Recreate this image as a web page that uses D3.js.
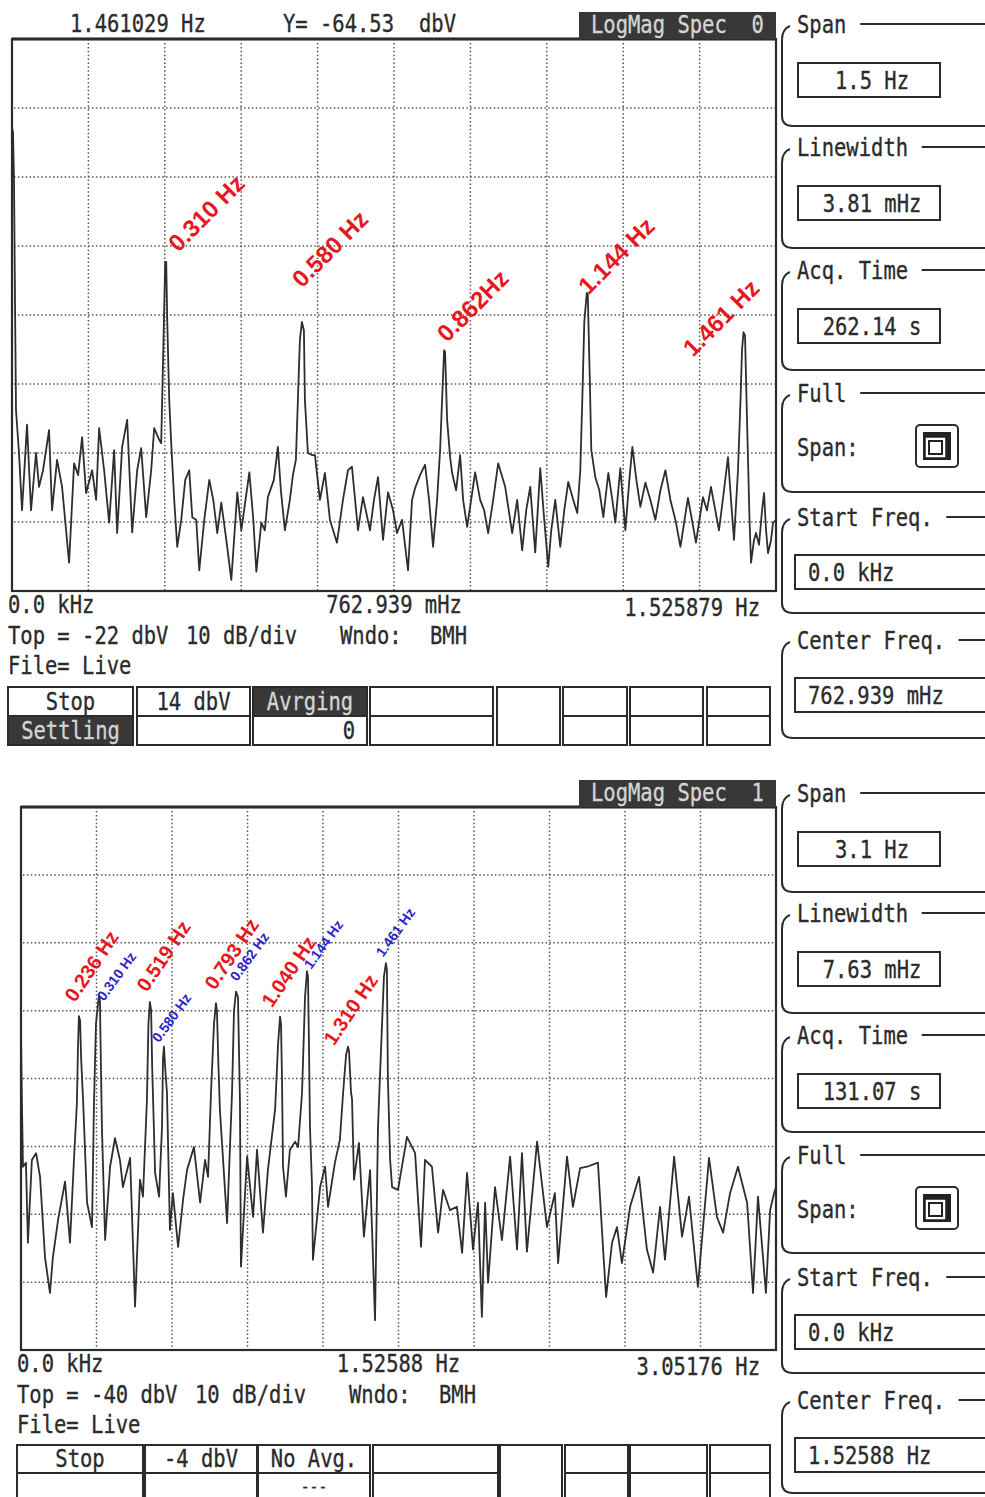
<!DOCTYPE html>
<html>
<head>
<meta charset="utf-8">
<script src="https://cdn.jsdelivr.net/npm/d3@7"></script>
<style>
  body { margin: 0; background: #fff; }
  .mono { font-family: "DejaVu Sans Mono", monospace; font-size: 25px; fill: #2b2b2b; stroke: #2b2b2b; stroke-width: 0.35; white-space: pre; }
  .peak { font-family: "Liberation Sans", Arial, sans-serif; font-weight: bold; }
</style>
</head>
<body>
<svg id="chart" width="985" height="1497"></svg>
<script>
// ---- data ----
// top analyser screen: span 1.525879 Hz, top -22 dBV, 10 dB/div
const topSpan = 1.525879;
const topRef = -22;
const topTrace = [
  [0.000,-34.8],[0.002,-35.5],[0.004,-42.4],[0.006,-60.0],[0.008,-75.8],[0.014,-82.0],[0.020,-90.3],[0.030,-77.9],
  [0.038,-90.3],[0.048,-82.0],[0.054,-86.9],[0.062,-84.5],[0.074,-78.7],[0.080,-90.3],[0.090,-83.0],[0.100,-86.9],
  [0.114,-97.9],[0.124,-83.5],[0.132,-85.2],[0.140,-79.7],[0.148,-87.8],[0.160,-84.5],[0.168,-88.8],[0.174,-78.4],
  [0.184,-84.5],[0.194,-92.1],[0.204,-81.6],[0.210,-93.6],[0.220,-81.1],[0.230,-77.2],[0.240,-93.5],[0.250,-84.5],
  [0.258,-81.3],[0.268,-91.3],[0.278,-84.5],[0.284,-78.4],[0.294,-80.1],[0.298,-80.6],[0.302,-67.6],[0.306,-54.3],
  [0.308,-54.3],[0.310,-62.7],[0.314,-74.3],[0.318,-80.6],[0.324,-88.8],[0.330,-95.6],[0.338,-91.7],[0.346,-85.9],
  [0.354,-84.5],[0.360,-91.3],[0.368,-91.7],[0.374,-99.0],[0.384,-91.7],[0.394,-85.9],[0.402,-88.8],[0.410,-93.6],
  [0.418,-89.2],[0.428,-94.6],[0.438,-100.4],[0.450,-87.7],[0.458,-93.2],[0.474,-84.8],[0.482,-91.7],[0.488,-99.2],
  [0.498,-92.1],[0.505,-93.2],[0.511,-88.4],[0.523,-85.9],[0.531,-81.1],[0.537,-87.4],[0.545,-93.2],[0.555,-88.8],
  [0.561,-85.2],[0.567,-83.0],[0.571,-74.3],[0.575,-65.6],[0.579,-63.0],[0.583,-64.2],[0.585,-74.3],[0.591,-82.0],
  [0.599,-82.3],[0.605,-82.3],[0.615,-88.8],[0.625,-84.9],[0.635,-91.7],[0.649,-95.0],[0.661,-88.8],[0.671,-84.5],
  [0.679,-84.0],[0.691,-93.2],[0.701,-88.4],[0.715,-93.2],[0.723,-88.8],[0.731,-85.5],[0.741,-94.6],[0.751,-87.7],
  [0.761,-90.3],[0.769,-93.6],[0.779,-91.7],[0.791,-99.0],[0.799,-88.8],[0.805,-87.1],[0.815,-85.2],[0.825,-83.7],
  [0.833,-88.8],[0.841,-95.6],[0.849,-88.8],[0.855,-81.6],[0.859,-74.3],[0.863,-67.1],[0.865,-67.4],[0.869,-77.2],
  [0.875,-82.6],[0.879,-84.9],[0.887,-87.4],[0.895,-82.3],[0.901,-88.8],[0.909,-92.7],[0.917,-88.8],[0.925,-84.8],
  [0.935,-88.8],[0.943,-90.3],[0.951,-93.6],[0.961,-88.8],[0.971,-83.5],[0.985,-86.9],[0.999,-93.6],[1.009,-88.8],
  [1.019,-96.1],[1.027,-90.3],[1.035,-86.9],[1.045,-96.4],[1.055,-84.2],[1.063,-91.7],[1.071,-98.5],[1.077,-93.2],
  [1.085,-88.8],[1.095,-95.6],[1.103,-90.3],[1.111,-86.2],[1.121,-88.8],[1.129,-90.7],[1.135,-84.5],[1.139,-74.3],
  [1.143,-63.0],[1.148,-58.8],[1.150,-59.1],[1.154,-71.4],[1.157,-81.6],[1.165,-85.5],[1.173,-87.4],[1.181,-91.3],
  [1.191,-84.9],[1.199,-88.8],[1.205,-92.1],[1.215,-84.2],[1.225,-93.2],[1.233,-85.9],[1.239,-81.1],[1.247,-85.9],
  [1.255,-89.8],[1.265,-86.3],[1.275,-88.8],[1.285,-91.7],[1.295,-87.4],[1.305,-84.5],[1.315,-88.8],[1.325,-91.7],
  [1.335,-95.6],[1.350,-88.5],[1.358,-91.7],[1.366,-95.0],[1.380,-88.4],[1.388,-90.3],[1.396,-86.9],[1.412,-93.2],
  [1.422,-87.4],[1.430,-82.6],[1.436,-88.8],[1.442,-94.6],[1.450,-84.5],[1.455,-74.3],[1.458,-67.1],[1.461,-64.5],
  [1.464,-65.0],[1.468,-77.2],[1.473,-91.7],[1.476,-97.9],[1.482,-94.6],[1.486,-93.6],[1.492,-95.3],[1.498,-90.3],
  [1.502,-87.8],[1.506,-93.2],[1.510,-96.5],[1.516,-94.6],[1.520,-92.1],[1.526,-91.7]
];
// red peak notes on the top screen: text, anchor frequency (Hz), anchor level (dBV)
const topNotes = [
  ["0.310 Hz", 0.332, -53.0],
  ["0.580 Hz", 0.579, -58.2],
  ["0.862Hz", 0.869, -66.1],
  ["1.144 Hz", 1.151, -59.2],
  ["1.461 Hz", 1.360, -68.2]
];
const topAxisText = ["0.0 kHz", "762.939 mHz", "1.525879 Hz"];
const topSide = [["Span", "1.5 Hz"], ["Linewidth", "3.81 mHz"], ["Acq. Time", "262.14 s"],
                 ["Full", "Span:"], ["Start Freq.", "0.0 kHz"], ["Center Freq.", "762.939 mHz"]];
const topRow1 = ["Stop", "14 dbV", "Avrging", "", "", "", "", ""];
const topRow2 = ["Settling", "", "0", "", "", "", "", ""];

// bottom analyser screen: span 3.05176 Hz, top -40 dBV, 10 dB/div
const botSpan = 3.05176;
const botRef = -40;
const botTrace = [
  [0.000,-73.3],[0.004,-84.2],[0.008,-93.0],[0.020,-92.4],[0.028,-104.2],[0.044,-92.0],[0.061,-91.0],[0.077,-94.5],
  [0.097,-106.3],[0.117,-111.6],[0.129,-106.3],[0.150,-100.8],[0.178,-95.2],[0.198,-104.2],[0.214,-92.0],[0.226,-83.6],
  [0.230,-76.0],[0.234,-70.8],[0.239,-71.5],[0.243,-77.0],[0.251,-83.2],[0.267,-98.3],[0.287,-101.9],[0.295,-83.6],
  [0.303,-72.0],[0.315,-67.7],[0.319,-68.5],[0.323,-78.0],[0.327,-87.1],[0.340,-103.8],[0.360,-93.0],[0.380,-88.8],
  [0.400,-92.0],[0.412,-96.0],[0.441,-91.7],[0.461,-113.6],[0.481,-94.9],[0.493,-97.4],[0.509,-83.2],[0.515,-72.0],
  [0.521,-68.7],[0.526,-70.0],[0.530,-78.0],[0.534,-83.2],[0.542,-93.9],[0.558,-97.4],[0.570,-87.1],[0.574,-77.0],
  [0.578,-75.3],[0.582,-78.0],[0.590,-82.1],[0.602,-102.3],[0.614,-96.9],[0.635,-104.8],[0.655,-97.9],[0.671,-93.5],
  [0.699,-90.1],[0.724,-98.3],[0.744,-92.0],[0.756,-94.5],[0.768,-82.1],[0.780,-72.0],[0.788,-68.9],[0.792,-70.0],
  [0.798,-78.0],[0.804,-84.6],[0.833,-101.3],[0.853,-82.1],[0.861,-70.0],[0.869,-67.2],[0.877,-68.0],[0.885,-83.2],
  [0.889,-107.7],[0.914,-91.5],[0.938,-100.4],[0.954,-90.5],[0.978,-102.7],[0.998,-93.5],[1.027,-84.6],[1.039,-75.0],
  [1.047,-70.9],[1.051,-72.0],[1.055,-80.0],[1.059,-93.0],[1.071,-97.4],[1.087,-90.5],[1.108,-89.3],[1.120,-90.1],
  [1.136,-82.1],[1.148,-68.0],[1.156,-64.2],[1.160,-65.0],[1.164,-75.0],[1.168,-87.1],[1.176,-95.4],[1.180,-106.7],
  [1.209,-96.0],[1.229,-93.0],[1.241,-98.9],[1.269,-92.4],[1.289,-89.0],[1.302,-82.1],[1.314,-76.5],[1.322,-75.3],
  [1.326,-76.0],[1.334,-82.1],[1.338,-83.0],[1.346,-94.9],[1.366,-89.5],[1.386,-103.3],[1.411,-93.5],[1.431,-115.6],
  [1.443,-87.1],[1.455,-76.0],[1.467,-65.0],[1.475,-63.0],[1.479,-64.0],[1.483,-80.0],[1.492,-92.0],[1.500,-96.0],
  [1.524,-96.4],[1.560,-88.6],[1.593,-91.0],[1.617,-104.8],[1.633,-92.0],[1.661,-93.0],[1.686,-102.7],[1.706,-96.4],
  [1.734,-99.4],[1.762,-98.9],[1.783,-105.7],[1.803,-93.9],[1.827,-105.2],[1.847,-98.3],[1.863,-115.1],[1.876,-98.3],
  [1.888,-110.1],[1.916,-96.0],[1.944,-103.8],[1.977,-91.5],[2.005,-105.2],[2.025,-91.0],[2.045,-105.5],[2.086,-89.3],
  [2.126,-101.9],[2.158,-96.9],[2.171,-107.2],[2.207,-91.5],[2.231,-98.9],[2.260,-93.2],[2.288,-93.0],[2.332,-92.4],
  [2.353,-105.2],[2.365,-112.2],[2.389,-104.2],[2.409,-101.9],[2.429,-107.2],[2.462,-98.9],[2.498,-94.5],[2.530,-105.2],
  [2.555,-108.6],[2.583,-98.9],[2.603,-106.7],[2.640,-91.5],[2.672,-103.3],[2.700,-97.4],[2.736,-110.7],[2.781,-91.7],
  [2.813,-100.4],[2.838,-102.7],[2.866,-96.9],[2.898,-93.0],[2.935,-98.3],[2.959,-111.6],[2.979,-97.4],[3.011,-111.6],
  [3.028,-99.4],[3.044,-96.9],[3.052,-96.0]
];
const botRedNotes = [
  ["0.236 Hz", 0.218, -68.9],
  ["0.519 Hz", 0.509, -67.4],
  ["0.793 Hz", 0.784, -67.1],
  ["1.040 Hz", 1.015, -69.7],
  ["1.310 Hz", 1.265, -75.3]
];
const botBlueNotes = [
  ["0.310 Hz", 0.335, -68.7],
  ["0.580 Hz", 0.558, -74.8],
  ["0.862 Hz", 0.873, -65.8],
  ["1.144 Hz", 1.172, -64.0],
  ["1.461 Hz", 1.463, -62.2]
];
const botAxisText = ["0.0 kHz", "1.52588 Hz", "3.05176 Hz"];
const botSide = [["Span", "3.1 Hz"], ["Linewidth", "7.63 mHz"], ["Acq. Time", "131.07 s"],
                 ["Full", "Span:"], ["Start Freq.", "0.0 kHz"], ["Center Freq.", "1.52588 Hz"]];
const botRow1 = ["Stop", "-4 dbV", "No Avg.", "", "", "", "", ""];
const botRow2 = ["", "", "---", "", "", "", "", ""];

// ---- drawing ----
const svg = d3.select('#chart');
const ink = '#2b2b2b';

// monospace instrument text, squeezed to the screen font width
function mono(g, txt, x, y, anchor) {
  return g.append('text')
    .attr('class', 'mono')
    .attr('transform', 'translate(' + x + ',' + y + ') scale(0.82,1)')
    .attr('text-anchor', anchor || 'start')
    .text(txt);
}

function screen(cfg) {
  const g = svg.append('g');
  const x = d3.scaleLinear().domain([0, cfg.span]).range([cfg.left, cfg.right]);
  const y = d3.scaleLinear().domain([cfg.ref - 80, cfg.ref]).range([cfg.bottom, cfg.top]);

  // dotted grid
  const grid = g.append('g')
    .attr('stroke', '#555').attr('stroke-width', 1.5).attr('stroke-dasharray', '1.5,2.4');
  grid.selectAll('.v').data(d3.range(1, 10).map(i => i * cfg.span / 10)).join('line')
    .attr('x1', d => x(d)).attr('x2', d => x(d)).attr('y1', cfg.top + 4).attr('y2', cfg.bottom);
  grid.selectAll('.h').data(d3.range(1, 8).map(i => cfg.ref - i * 10)).join('line')
    .attr('x1', cfg.left + 2).attr('x2', cfg.right).attr('y1', d => y(d)).attr('y2', d => y(d));

  // trace
  g.append('path')
    .datum(cfg.trace)
    .attr('fill', 'none').attr('stroke', '#2e2e2e').attr('stroke-width', 1.8).attr('stroke-linejoin', 'round')
    .attr('d', d3.line().x(d => x(d[0])).y(d => y(d[1])));

  // frame
  g.append('rect')
    .attr('x', cfg.left).attr('y', cfg.top)
    .attr('width', cfg.right - cfg.left).attr('height', cfg.bottom - cfg.top)
    .attr('fill', 'none').attr('stroke', ink).attr('stroke-width', 2.2);
  g.append('line').attr('x1', cfg.left).attr('x2', cfg.right).attr('y1', cfg.top).attr('y2', cfg.top)
    .attr('stroke', ink).attr('stroke-width', 3);

  // title box
  g.append('rect').attr('x', cfg.right - 197).attr('y', cfg.top - 27).attr('width', 197).attr('height', 27)
    .attr('fill', '#383838');
  mono(g, cfg.title, cfg.right - 185, cfg.top - 6).style('fill', '#d4d4d4').style('stroke', '#d4d4d4');

  // peak notes
  cfg.notes.forEach(set => {
    g.selectAll(null).data(set.rows).join('text')
      .attr('class', 'peak')
      .attr('font-size', set.size)
      .attr('fill', set.color)
      .attr('transform', d => 'translate(' + x(d[1]) + ',' + y(d[2]) + ') rotate(' + set.angle + ')')
      .text(d => d[0]);
  });

  // frequency labels under the screen
  mono(g, cfg.axis[0], cfg.left - 4, cfg.bottom + 22);
  mono(g, cfg.axis[1], x(cfg.span / 2), cfg.bottom + 22, 'middle');
  mono(g, cfg.axis[2], cfg.right - 16, cfg.bottom + 25, 'end');

  // status lines
  mono(g, 'Top = ' + cfg.ref + ' dbV', cfg.left - 4, cfg.bottom + 53);
  mono(g, '10 dB/div', cfg.left + 174, cfg.bottom + 53);
  mono(g, 'Wndo:', cfg.left + 328, cfg.bottom + 53);
  mono(g, 'BMH', cfg.left + 418, cfg.bottom + 53);
  mono(g, 'File= Live', cfg.left - 4, cfg.bottom + 83);

  // soft-key table
  const t = cfg.table;
  t.cells.forEach((c, i) => {
    if (t.dark[0] === i) g.append('rect').attr('x', c[0]).attr('y', t.y0).attr('width', c[1] - c[0]).attr('height', t.y1 - t.y0).attr('fill', '#383838');
    if (t.dark[1] === i) g.append('rect').attr('x', c[0]).attr('y', t.y1).attr('width', c[1] - c[0]).attr('height', t.y2 - t.y1).attr('fill', '#383838');
    g.append('rect').attr('x', c[0]).attr('y', t.y0).attr('width', c[1] - c[0]).attr('height', t.y2 - t.y0)
      .attr('fill', 'none').attr('stroke', ink).attr('stroke-width', 2);
    if (i !== 4) g.append('line').attr('x1', c[0]).attr('x2', c[1]).attr('y1', t.y1).attr('y2', t.y1)
      .attr('stroke', ink).attr('stroke-width', 2);
    const cx = (c[0] + c[1]) / 2;
    if (cfg.row1[i]) {
      const light = t.dark[0] === i ? '#d4d4d4' : ink;
      mono(g, cfg.row1[i], cx, t.y1 - 6, 'middle').style('fill', light).style('stroke', light);
    }
    if (cfg.row2[i]) {
      const right = cfg.row2[i] === '0';
      const light = t.dark[1] === i ? '#d4d4d4' : ink;
      mono(g, cfg.row2[i], right ? c[1] - 12 : cx, t.y1 + t.row2Base, right ? 'end' : 'middle')
        .style('fill', light).style('stroke', light).style('font-size', t.row2Size + 'px');
    }
  });

  // right-hand parameter panel
  cfg.side.forEach((s, i) => {
    const ly = cfg.sideY[i], by = cfg.sideBottom[i];
    g.append('path')
      .attr('d', 'M790,' + (ly + 2) + ' Q782,' + (ly + 5) + ' 782,' + (ly + 16) + ' L782,' + (by - 10) +
                 ' Q782,' + by + ' 793,' + by + ' L985,' + by)
      .attr('fill', 'none').attr('stroke', ink).attr('stroke-width', 2);
    g.append('line').attr('x1', 797 + s[0].length * 12.3 + 14).attr('x2', 985).attr('y1', ly).attr('y2', ly)
      .attr('stroke', ink).attr('stroke-width', 2);
    mono(g, s[0], 797, ly + 9);
    if (s[0] === 'Full') {
      mono(g, s[1], 797, ly + 63);
      const ix = 916, iy = ly + 32;
      g.append('rect').attr('x', ix).attr('y', iy).attr('width', 42).attr('height', 42).attr('rx', 4)
        .attr('fill', 'none').attr('stroke', ink).attr('stroke-width', 2);
      g.append('rect').attr('x', ix + 7).attr('y', iy + 7).attr('width', 28).attr('height', 28)
        .attr('fill', '#222');
      g.append('rect').attr('x', ix + 9).attr('y', iy + 12).attr('width', 21).attr('height', 21)
        .attr('fill', '#fff').attr('stroke', '#222').attr('stroke-width', 1.5);
      g.append('rect').attr('x', ix + 13).attr('y', iy + 16).attr('width', 13).attr('height', 13)
        .attr('fill', 'none').attr('stroke', '#222').attr('stroke-width', 2);
    } else if (i < 3) {
      g.append('rect').attr('x', 798).attr('y', ly + 39).attr('width', 142).attr('height', 34)
        .attr('fill', 'none').attr('stroke', ink).attr('stroke-width', 2);
      mono(g, s[1], 872, ly + 65, 'middle');
    } else {
      g.append('rect').attr('x', 795).attr('y', ly + 38).attr('width', 192).attr('height', 34)
        .attr('fill', 'none').attr('stroke', ink).attr('stroke-width', 2);
      mono(g, s[1], 808, ly + 64);
    }
  });
  return g;
}

// marker readout above the top screen
const head = svg.append('g');
mono(head, '1.461029 Hz', 70, 32);
mono(head, 'Y=', 283, 32);
mono(head, '-64.53', 320, 32);
mono(head, 'dbV', 419, 32);

screen({
  span: topSpan, ref: topRef, trace: topTrace,
  left: 12, right: 776, top: 39, bottom: 591,
  title: 'LogMag Spec  0',
  notes: [{ rows: topNotes, size: 24, color: '#e8171e', angle: -45 }],
  axis: topAxisText,
  side: topSide,
  sideY: [24, 147, 270, 393, 517, 640],
  sideBottom: [126, 248, 370, 492, 613, 738],
  row1: topRow1, row2: topRow2,
  table: {
    y0: 687, y1: 716, y2: 745, dark: [2, 0], row2Base: 23, row2Size: 25,
    cells: [[8,133],[137,250],[253,367],[370,493],[497,560],[563,627],[630,703],[707,770]]
  }
});

screen({
  span: botSpan, ref: botRef, trace: botTrace,
  left: 21, right: 776, top: 807, bottom: 1350,
  title: 'LogMag Spec  1',
  notes: [
    { rows: botRedNotes, size: 20, color: '#e8171e', angle: -56 },
    { rows: botBlueNotes, size: 14, color: '#2d24c8', angle: -54 }
  ],
  axis: botAxisText,
  side: botSide,
  sideY: [793, 913, 1035, 1155, 1277, 1400],
  sideBottom: [892, 1013, 1132, 1253, 1373, 1493],
  row1: botRow1, row2: botRow2,
  table: {
    y0: 1445, y1: 1473, y2: 1505, dark: [-1, -1], row2Base: 19, row2Size: 18,
    cells: [[17,143],[145,257],[258,370],[373,498],[500,562],[565,628],[630,707],[710,770]]
  }
});
</script>
</body>
</html>
